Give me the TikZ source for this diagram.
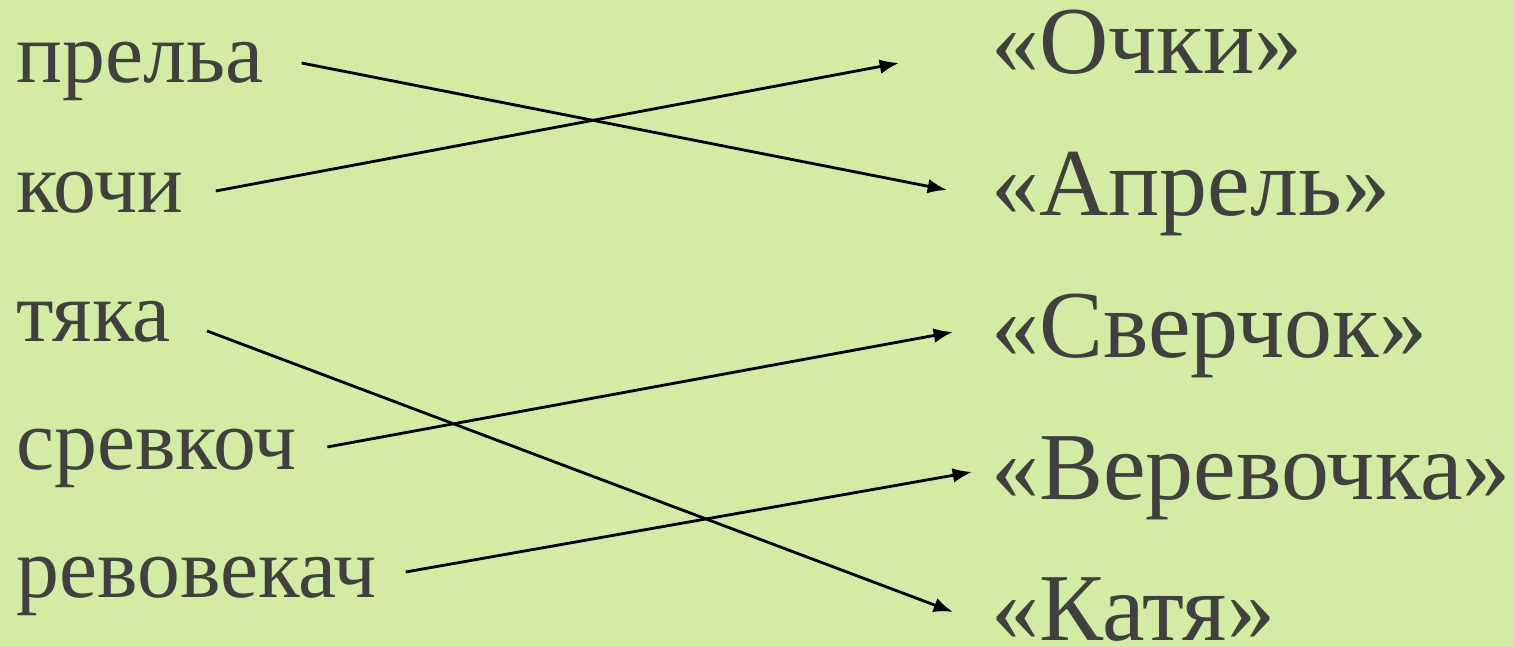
\documentclass[tikz,border=0pt]{standalone}
\usepackage{fontspec}
\setmainfont{Liberation Serif}
\usetikzlibrary{arrows.meta}
\definecolor{slidebg}{RGB}{212,235,163}
\definecolor{wordgray}{RGB}{64,64,64}

\begin{document}
\begin{tikzpicture}[word/.style={inner sep=0pt, anchor=base west, text=wordgray},
	anagram/.style={word, font=\fontsize{24.4}{29}\selectfont},
	title/.style={word, font=\fontsize{27.3}{33}\selectfont},
	>={Latex[length=5.5pt,width=4.2pt]}, line width=0.8pt]

\useasboundingbox (0,0) rectangle (15.14,6.47);
\fill[slidebg] (0,0) rectangle (15.14,6.47);

% scrambled words
\node[anagram] (prela) at (0.15,5.64) {прельа};
\node[anagram] (kochi) at (0.15,4.34) {кочи};
\node[anagram] (tyaka) at (0.15,3.05) {тяка};
\node[anagram] (srevkoch) at (0.15,1.77) {сревкоч};
\node[anagram] (revovekach) at (0.15,0.49) {ревовекач};

% titles
\node[title] (ochki) at (9.9,5.73) {«Очки»};
\node[title] (aprel) at (9.9,4.31) {«Апрель»};
\node[title] (sverchok) at (9.9,2.89) {«Сверчок»};
\node[title] (verevochka) at (9.9,1.47) {«Веревочка»};
\node[title] (katya) at (9.9,0.06) {«Катя»};

\draw[->] ([shift={(.37,.20)}]prela.base east) -- ([shift={(-.43,.26)}]aprel.base west);
\draw[->] ([shift={(.31,.22)}]kochi.base east) -- ([shift={(-.91,.11)}]ochki.base west);
\draw[->] ([shift={(.35,.11)}]tyaka.base east) -- ([shift={(-.37,.29)}]katya.base west);
\draw[->] ([shift={(.29,.23)}]srevkoch.base east) -- ([shift={(-.37,.26)}]sverchok.base west);
\draw[->] ([shift={(.28,.26)}]revovekach.base east) -- ([shift={(-.18,.28)}]verevochka.base west);
\end{tikzpicture}
\end{document}
